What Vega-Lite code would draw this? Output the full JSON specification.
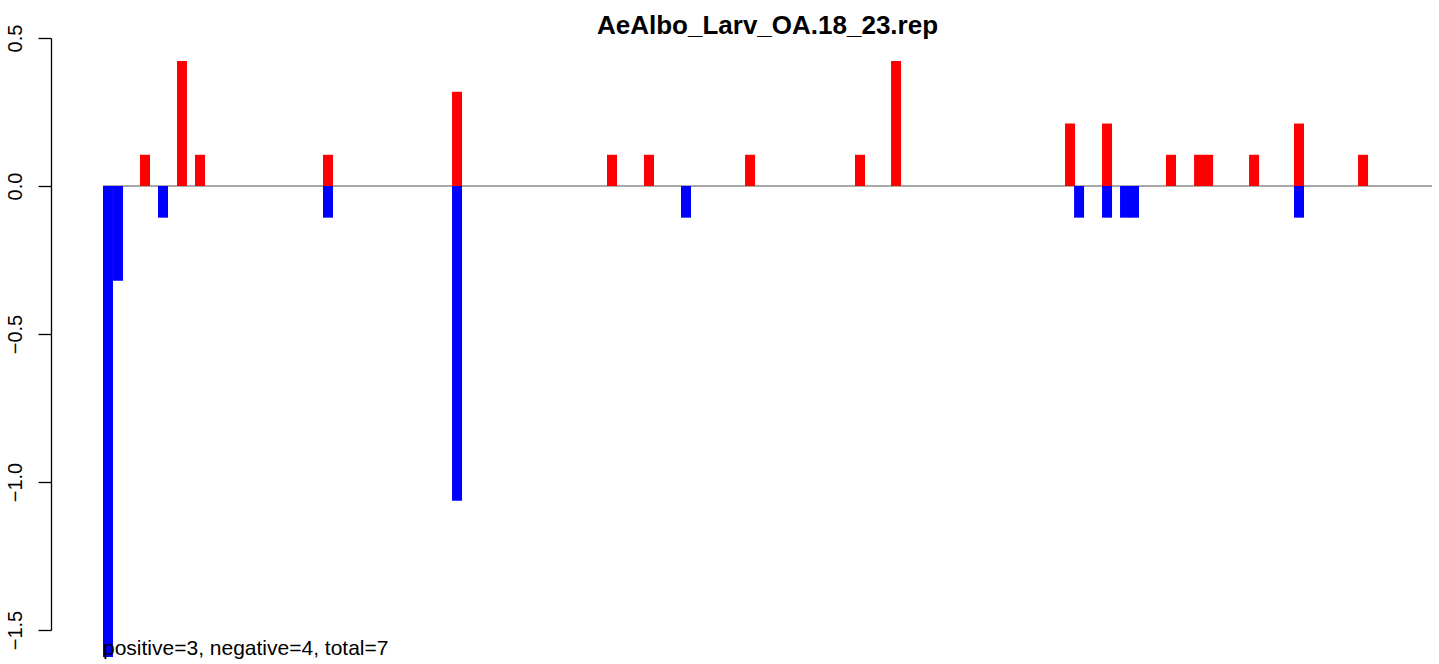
{
  "$schema": "https://vega.github.io/schema/vega-lite/v6.json",
  "width": 1381,
  "height": 592,
  "autosize": {"type": "none"},
  "padding": {"left": 51, "top": 38, "right": 7, "bottom": 34},
  "background": "white",
  "title": {
    "text": "AeAlbo_Larv_OA.18_23.rep",
    "font": "Liberation Sans",
    "fontSize": 26,
    "fontWeight": "bold",
    "color": "black",
    "anchor": "middle",
    "offset": -1,
    "dx": 26,
    "dy": 14
  },
  "config": {
    "view": {"stroke": null},
    "font": "Liberation Sans"
  },
  "data": {
    "values": [
      {"kind": "zero", "pos": 0, "end": 144, "value": 0},
      {"kind": "note", "pos": 0, "value": -1.584, "label": "positive=3, negative=4, total=7"},
      {"kind": "bar", "pos": 0.54, "value": -1.591, "dir": "neg"},
      {"kind": "bar", "pos": 1.63, "value": -0.32, "dir": "neg"},
      {"kind": "bar", "pos": 4.55, "value": 0.1055, "dir": "pos"},
      {"kind": "bar", "pos": 6.5, "value": -0.107, "dir": "neg"},
      {"kind": "bar", "pos": 8.56, "value": 0.422, "dir": "pos"},
      {"kind": "bar", "pos": 10.51, "value": 0.1055, "dir": "pos"},
      {"kind": "bar", "pos": 24.38, "value": 0.1055, "dir": "pos"},
      {"kind": "bar", "pos": 24.38, "value": -0.107, "dir": "neg"},
      {"kind": "bar", "pos": 38.36, "value": 0.318, "dir": "pos"},
      {"kind": "bar", "pos": 38.36, "value": -1.063, "dir": "neg"},
      {"kind": "bar", "pos": 55.15, "value": 0.1055, "dir": "pos"},
      {"kind": "bar", "pos": 59.16, "value": 0.1055, "dir": "pos"},
      {"kind": "bar", "pos": 63.17, "value": -0.107, "dir": "neg"},
      {"kind": "bar", "pos": 70.11, "value": 0.1055, "dir": "pos"},
      {"kind": "bar", "pos": 82.02, "value": 0.1055, "dir": "pos"},
      {"kind": "bar", "pos": 85.93, "value": 0.422, "dir": "pos"},
      {"kind": "bar", "pos": 104.78, "value": 0.211, "dir": "pos"},
      {"kind": "bar", "pos": 105.76, "value": -0.107, "dir": "neg"},
      {"kind": "bar", "pos": 108.79, "value": 0.211, "dir": "pos"},
      {"kind": "bar", "pos": 108.79, "value": -0.107, "dir": "neg"},
      {"kind": "bar", "pos": 110.74, "value": -0.107, "dir": "neg"},
      {"kind": "bar", "pos": 111.71, "value": -0.107, "dir": "neg"},
      {"kind": "bar", "pos": 115.72, "value": 0.1055, "dir": "pos"},
      {"kind": "bar", "pos": 118.76, "value": 0.1055, "dir": "pos"},
      {"kind": "bar", "pos": 119.74, "value": 0.1055, "dir": "pos"},
      {"kind": "bar", "pos": 124.72, "value": 0.1055, "dir": "pos"},
      {"kind": "bar", "pos": 129.59, "value": 0.211, "dir": "pos"},
      {"kind": "bar", "pos": 129.59, "value": -0.107, "dir": "neg"},
      {"kind": "bar", "pos": 136.53, "value": 0.1055, "dir": "pos"}
    ]
  },
  "encoding": {
    "x": {
      "field": "pos",
      "type": "quantitative",
      "scale": {"domain": [-5.634, 144], "nice": false, "zero": false, "padding": 0},
      "axis": null
    },
    "y": {
      "field": "value",
      "type": "quantitative",
      "scale": {"domain": [-1.5, 0.5], "nice": false, "padding": 0},
      "axis": {
        "title": null,
        "values": [-1.5, -1, -0.5, 0, 0.5],
        "format": ".1f",
        "grid": false,
        "domainColor": "black",
        "domainWidth": 1.3,
        "tickColor": "black",
        "tickWidth": 1.3,
        "tickSize": 13,
        "labelPadding": 13,
        "labelAngle": -90,
        "labelAlign": "center",
        "labelBaseline": "bottom",
        "labelFont": "Liberation Sans",
        "labelFontSize": 20,
        "labelColor": "black",
        "labelOverlap": false,
        "labelBound": false,
        "labelFlush": false
      }
    }
  },
  "layer": [
    {
      "transform": [{"filter": "datum.kind === 'zero'"}],
      "mark": {"type": "rule", "color": "#555555", "strokeWidth": 1.2},
      "encoding": {
        "x2": {"field": "end"}
      }
    },
    {
      "transform": [{"filter": "datum.kind === 'bar'"}],
      "mark": {"type": "bar", "size": 10},
      "encoding": {
        "color": {
          "field": "dir",
          "type": "nominal",
          "scale": {"domain": ["pos", "neg"], "range": ["#FF0000", "#0000FF"]},
          "legend": null
        }
      }
    },
    {
      "transform": [{"filter": "datum.kind === 'note'"}],
      "mark": {
        "type": "text",
        "align": "left",
        "baseline": "alphabetic",
        "font": "Liberation Sans",
        "fontSize": 21,
        "color": "black"
      },
      "encoding": {
        "text": {"field": "label"}
      }
    }
  ]
}
